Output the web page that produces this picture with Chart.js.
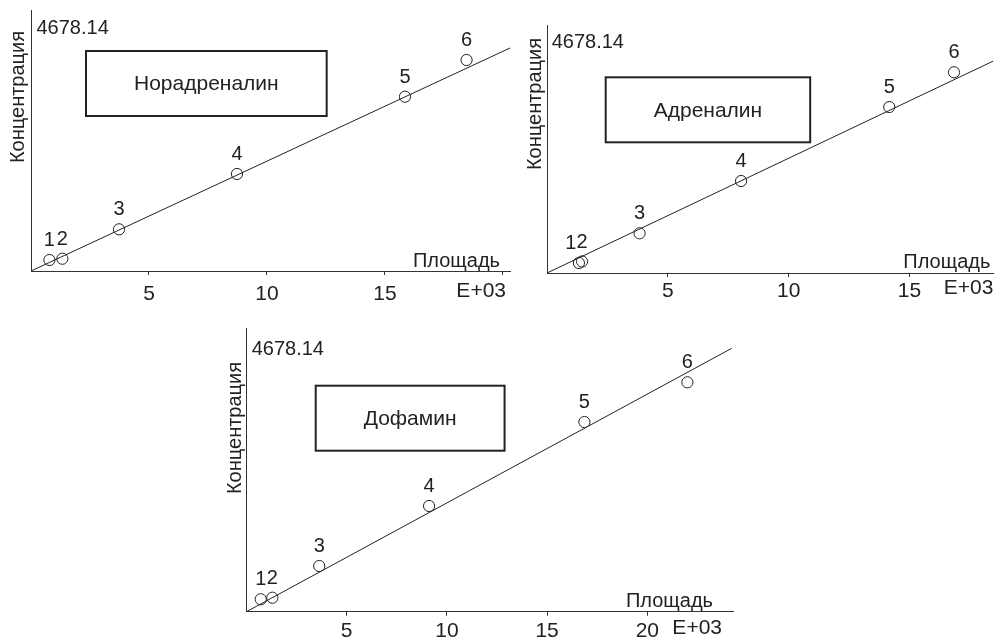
<!DOCTYPE html>
<html>
<head>
<meta charset="utf-8">
<script src="https://cdn.jsdelivr.net/npm/chart.js@4/dist/chart.umd.min.js"></script>
<style>
  html, body { margin: 0; padding: 0; background: #fff; }
  #wrap { position: relative; width: 1000px; height: 641px; overflow: hidden; background: #fff; }
  #wrap canvas { position: absolute; left: 0; top: 0; }
</style>
</head>
<body>
<div id="wrap">
  <canvas id="c1" width="1000" height="641"></canvas>
  <canvas id="c2" width="1000" height="641"></canvas>
  <canvas id="c3" width="1000" height="641"></canvas>
</div>
<script>
// Calibration standards: peak area (×10^3) vs. concentration
const concMax = 4678.14;
const pointNumbers = ['1', '2', '3', '4', '5', '6'];

// Норадреналин
const noradArea = [0.78, 1.33, 3.73, 8.73, 15.85, 18.46];
const noradConc = [197, 220, 747, 1739, 3124, 3782];
const noradFitX = [0, 20.3];
const noradFitY = [0, 3997];
const noradTicks = [5, 10, 15, 20];
const noradTickLabels = ['5', '10', '15', ''];

// Адреналин
const adrenArea = [1.32, 1.45, 3.83, 8.03, 14.16, 16.84];
const adrenConc = [189, 217, 749, 1735, 3131, 3786];
const adrenFitX = [0, 18.47];
const adrenFitY = [0, 3999];
const adrenTicks = [5, 10, 15];
const adrenTickLabels = ['5', '10', '15'];

// Дофамин
const dopaArea = [0.71, 1.29, 3.63, 9.11, 16.86, 22.0];
const dopaConc = [205, 231, 754, 1745, 3131, 3787];
const dopaFitX = [0, 24.21];
const dopaFitY = [0, 4348];
const dopaTicks = [5, 10, 15, 20];
const dopaTickLabels = ['5', '10', '15', '20'];

const FONT = '"Liberation Sans", Arial, Helvetica, sans-serif';
const INK = '#222';
const AXIS_H = 40;

const panels = [
  {
    canvas: 'c1', name: 'Норадреналин',
    xs: noradArea, ys: noradConc, fitX: noradFitX, fitY: noradFitY,
    ticks: noradTicks, tickLabels: noradTickLabels, xMax: 20.3,
    area: { left: 31, top: 10, right: 510, bottom: 271 }, tickPad: 7,
    box: { dx: 55, dy: 41 }, topLabel: { dx: 5.5, dy: 18.7 },
    yTitle: { dx: -12.5, dy: 87 }, xTitle: { dr: -10, db: -4 }, exp: { dr: -4, db: 20 }
  },
  {
    canvas: 'c2', name: 'Адреналин',
    xs: adrenArea, ys: adrenConc, fitX: adrenFitX, fitY: adrenFitY,
    ticks: adrenTicks, tickLabels: adrenTickLabels, xMax: 18.47,
    area: { left: 547, top: 25, right: 1000, bottom: 273 }, tickPad: 2,
    box: { dx: 58.7, dy: 52.3 }, topLabel: { dx: 4.7, dy: 17 },
    yTitle: { dx: -12, dy: 79 }, xTitle: { dr: -3, db: -5 }, exp: { dr: 0, db: 15 }
  },
  {
    canvas: 'c3', name: 'Дофамин',
    xs: dopaArea, ys: dopaConc, fitX: dopaFitX, fitY: dopaFitY,
    ticks: dopaTicks, tickLabels: dopaTickLabels, xMax: 24.29,
    area: { left: 246.5, top: 328.3, right: 733.3, bottom: 611.7 }, tickPad: 3,
    box: { dx: 69.2, dy: 57.4 }, topLabel: { dx: 5.2, dy: 21.4 },
    yTitle: { dx: -11.5, dy: 99.7 }, xTitle: { dr: -20.3, db: -5 }, exp: { dr: -11.3, db: 16.3 }
  }
];

function makePanel(p) {
  const canvas = document.getElementById(p.canvas);
  const W = canvas.width, H = canvas.height;

  const pts = p.xs.map((x, i) => ({ x: x, y: p.ys[i] }));
  const fit = p.fitX.map((x, i) => ({ x: x, y: p.fitY[i] }));

  const decorations = {
    id: 'panelDecor',
    afterDraw(chart) {
      const ctx = chart.ctx;
      const a = chart.chartArea;
      ctx.save();
      ctx.fillStyle = INK;
      ctx.strokeStyle = INK;

      // value at top of the concentration axis
      ctx.font = '20px ' + FONT;
      ctx.textAlign = 'left';
      ctx.textBaseline = 'middle';
      ctx.fillText(concMax.toFixed(2), a.left + p.topLabel.dx, a.top + p.topLabel.dy);

      // vertical axis title
      ctx.save();
      ctx.translate(a.left + p.yTitle.dx, a.top + p.yTitle.dy);
      ctx.rotate(-Math.PI / 2);
      ctx.textAlign = 'center';
      ctx.textBaseline = 'middle';
      ctx.font = '20px ' + FONT;
      ctx.fillText('Концентрация', 0, 0);
      ctx.restore();

      // horizontal axis title and exponent
      ctx.font = '20px ' + FONT;
      ctx.textAlign = 'right';
      ctx.textBaseline = 'alphabetic';
      ctx.fillText('Площадь', a.right + p.xTitle.dr, a.bottom + p.xTitle.db);
      ctx.font = '21px ' + FONT;
      ctx.textBaseline = 'middle';
      ctx.fillText('E+03', a.right + p.exp.dr, a.bottom + p.exp.db);

      // compound name in a frame
      ctx.font = '21px ' + FONT;
      const tw = ctx.measureText(p.name).width;
      const bw = tw + 96, bh = 65;
      const bx = a.left + p.box.dx, by = a.top + p.box.dy;
      ctx.lineWidth = 2;
      ctx.strokeRect(bx, by, bw, bh);
      ctx.textAlign = 'center';
      ctx.textBaseline = 'middle';
      ctx.fillText(p.name, bx + bw / 2, by + bh / 2 + 1);

      // standard numbers above the points, nudged apart where they collide
      const meta = chart.getDatasetMeta(0);
      ctx.font = '20px ' + FONT;
      const labels = meta.data.map((el, i) => {
        const w = ctx.measureText(pointNumbers[i]).width;
        return { text: pointNumbers[i], cx: el.x, y: el.y - 19.5, w: w };
      });
      for (let i = labels.length - 1; i > 0; i--) {
        const cur = labels[i], prev = labels[i - 1];
        const overlap = (prev.cx + prev.w / 2) - (cur.cx - cur.w / 2);
        if (overlap > 0) prev.cx -= overlap;
      }
      labels.forEach(l => ctx.fillText(l.text, l.cx, l.y));
      ctx.restore();
    }
  };

  return new Chart(canvas, {
    type: 'scatter',
    data: {
      datasets: [
        {
          data: pts,
          pointStyle: 'circle',
          pointRadius: 5.6,
          pointBorderWidth: 1,
          pointBorderColor: INK,
          pointBackgroundColor: 'rgba(0,0,0,0)',
          showLine: false
        },
        {
          data: fit,
          showLine: true,
          borderColor: INK,
          borderWidth: 1,
          pointRadius: 0,
          fill: false
        }
      ]
    },
    options: {
      responsive: false,
      animation: false,
      events: [],
      layout: {
        padding: {
          left: p.area.left,
          top: p.area.top,
          right: W - p.area.right,
          bottom: H - p.area.bottom - AXIS_H
        }
      },
      plugins: { legend: { display: false }, tooltip: { enabled: false } },
      scales: {
        x: {
          type: 'linear',
          min: 0,
          max: p.xMax,
          afterFit(scale) { scale.height = AXIS_H; },
          afterBuildTicks(scale) { scale.ticks = p.ticks.map(v => ({ value: v })); },
          ticks: {
            autoSkip: false,
            maxRotation: 0,
            padding: p.tickPad,
            color: INK,
            font: { family: FONT, size: 21 },
            callback: (v, i) => p.tickLabels[i]
          },
          grid: {
            display: true,
            drawOnChartArea: false,
            drawTicks: true,
            tickLength: 4,
            color: '#333',
            lineWidth: 1
          },
          border: { display: true, color: '#333', width: 1 }
        },
        y: {
          type: 'linear',
          min: 0,
          max: concMax,
          afterFit(scale) { scale.width = 0; },
          ticks: { display: false },
          grid: { display: false, drawTicks: false },
          border: { display: true, color: '#333', width: 1 }
        }
      }
    },
    plugins: [decorations]
  });
}

panels.forEach(makePanel);
</script>
</body>
</html>
